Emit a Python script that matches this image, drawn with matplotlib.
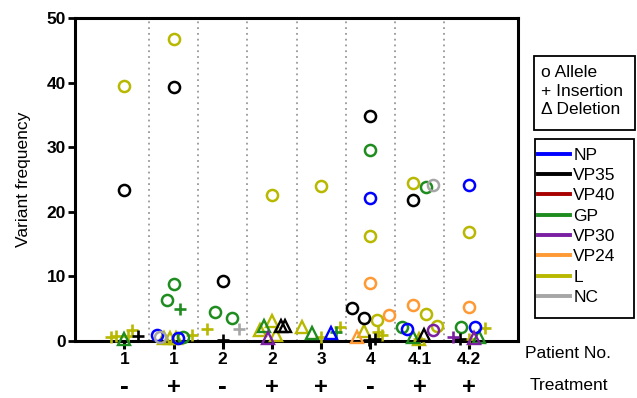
import matplotlib.pyplot as plt
from matplotlib.lines import Line2D
from matplotlib.patches import Rectangle

plt.rcParams["font.family"] = ["Liberation Sans", "DejaVu Sans"]

patients = ["1", "1", "2", "2", "3", "4", "4.1", "4.2"]
treatment = ["-", "+", "-", "+", "+", "-", "+", "+"]
genes = ["NP", "VP35", "VP40", "GP", "VP30", "VP24", "L", "NC"]
gene_colors = {
    "NP": "#0000ff", "VP35": "#000000", "VP40": "#a80000", "GP": "#1f8c1f",
    "VP30": "#7b1fa2", "VP24": "#ff9933", "L": "#b8b800", "NC": "#a6a6a6",
}

# x = patient column (0..7) plus the scatter offset
allele_x = {
    "NP": [0.67, 1.09, 5.0, 5.74, 7.0, 7.13],
    "VP35": [0.0, 1.0, 2.0, 4.63, 4.87, 5.0, 5.86],
    "GP": [0.87, 1.0, 1.19, 1.84, 2.18, 5.0, 5.64, 6.14, 6.85],
    "VP30": [6.28],
    "VP24": [5.0, 5.37, 5.86, 7.0],
    "L": [0.0, 1.0, 3.0, 4.0, 5.0, 5.13, 5.86, 6.14, 6.36, 7.0],
    "NC": [0.73, 6.28],
}
allele_y = {
    "NP": [1.0, 0.5, 22.2, 1.9, 24.2, 2.2],
    "VP35": [23.4, 39.3, 9.3, 5.1, 3.6, 34.8, 21.9],
    "GP": [6.4, 8.9, 0.6, 4.5, 3.6, 29.5, 2.2, 23.8, 2.2],
    "VP30": [1.7],
    "VP24": [9.0, 4.0, 5.6, 5.3],
    "L": [39.5, 46.7, 22.6, 24.0, 16.2, 3.3, 24.4, 4.2, 2.3, 16.9],
    "NC": [0.6, 24.1],
}
insertion_x = {
    "VP35": [0.28, 2.0, 4.98, 5.1, 6.83],
    "GP": [1.13, 4.3],
    "VP30": [6.69],
    "L": [-0.28, -0.18, 0.08, 0.16, 1.37, 1.68, 4.0, 4.38, 5.16, 5.24, 6.0, 7.0, 7.33],
    "NC": [2.34],
}
insertion_y = {
    "VP35": [0.8, 0.2, 0.2, 0.3, 0.4],
    "GP": [5.0, 1.4],
    "VP30": [0.6],
    "L": [0.6, 0.8, 0.8, 1.7, 1.0, 1.9, 0.6, 2.2, 1.4, 0.9, 0.3, 0.3, 2.0],
    "NC": [1.9],
}
deletion_x = {
    "NP": [4.2],
    "VP35": [3.19, 3.27, 6.1],
    "GP": [0.0, 2.83, 3.82, 5.86, 7.21],
    "VP30": [2.91, 7.11],
    "VP24": [4.73],
    "L": [0.8, 0.93, 1.04, 2.75, 3.01, 3.09, 3.62, 4.87, 6.0],
}
deletion_y = {
    "NP": [1.2],
    "VP35": [2.3, 2.3, 1.0],
    "GP": [0.3, 2.3, 1.2, 0.7, 0.6],
    "VP30": [0.5, 0.5],
    "VP24": [0.6],
    "L": [0.5, 0.5, 0.5, 1.7, 3.1, 0.9, 2.2, 1.5, 0.3],
}

W, H = 637, 398
fig = plt.figure(figsize=(W / 100, H / 100), dpi=100)
ax = fig.add_axes([0.118, 0.143, 0.695, 0.812])

for i in range(len(patients) - 1):
    ax.plot([i + 0.5, i + 0.5], [0, 50], color="#999999", lw=1.3,
            linestyle=(0, (1, 2.2)), zorder=1)

order = ["L", "GP", "VP35", "NP", "VP24", "VP30", "NC", "VP40"]
for g in order:
    c = gene_colors[g]
    if g in allele_x:
        ax.plot(allele_x[g], allele_y[g], "o", ms=8, mfc="none", mec=c, mew=1.8,
                ls="none", clip_on=False, zorder=3)
    if g in insertion_x:
        ax.plot(insertion_x[g], insertion_y[g], "+", ms=8.5, mec=c, mew=1.9,
                ls="none", clip_on=False, zorder=3)
    if g in deletion_x:
        ax.plot(deletion_x[g], deletion_y[g], "^", ms=8, mfc="none", mec=c, mew=1.7,
                ls="none", clip_on=False, zorder=3)

ax.set_xlim(-1, 8)
ax.set_ylim(0, 50)
ax.set_yticks([0, 10, 20, 30, 40, 50])
ax.set_xticks(range(len(patients)))
ax.set_xticklabels(patients, fontsize=12.5, fontweight="bold")
for lab in ax.get_yticklabels():
    lab.set_fontweight("bold")
    lab.set_fontsize(12.5)
ax.tick_params(axis="y", length=5, width=2, pad=1.5)
ax.tick_params(axis="x", length=6, width=2.2, pad=2)
for s in ax.spines.values():
    s.set_linewidth(2.2)
ax.set_ylabel("Variant frequency", fontsize=12.5, labelpad=11)

for i, t in enumerate(treatment):
    ax.text(i, -0.143, t, transform=ax.get_xaxis_transform(), ha="center", va="center",
            fontsize=17 if t == "+" else 19, fontweight="bold")
fig.text(525 / W, 1 - 354 / H, "Patient No.", fontsize=12.5, va="center", ha="left")
fig.text(530 / W, 1 - 386 / H, "Treatment", fontsize=12.5, va="center", ha="left")

# marker-type key
fig.patches.append(Rectangle((534 / W, 1 - 130 / H), 101 / W, 74 / H, transform=fig.transFigure,
                             fc="white", ec="black", lw=1.3))
fig.text(541 / W, 1 - 91 / H, "o Allele\n+ Insertion\n\u0394 Deletion", fontsize=12.5,
         va="center", ha="left", linespacing=1.3)

# gene colour key
fig.patches.append(Rectangle((535 / W, 1 - 318 / H), 99 / W, 179 / H, transform=fig.transFigure,
                             fc="white", ec="black", lw=1.3))
handles = [Line2D([0], [0], color=gene_colors[g], lw=2.8) for g in genes]
leg = fig.legend(handles, genes, loc="upper left", bbox_to_anchor=(535 / W, 1 - 144 / H),
                 frameon=False, fontsize=12.5, handlelength=1.8, handletextpad=0.2,
                 labelspacing=0.3, borderpad=0.2, borderaxespad=0)

fig.savefig("out.png", dpi=100)
